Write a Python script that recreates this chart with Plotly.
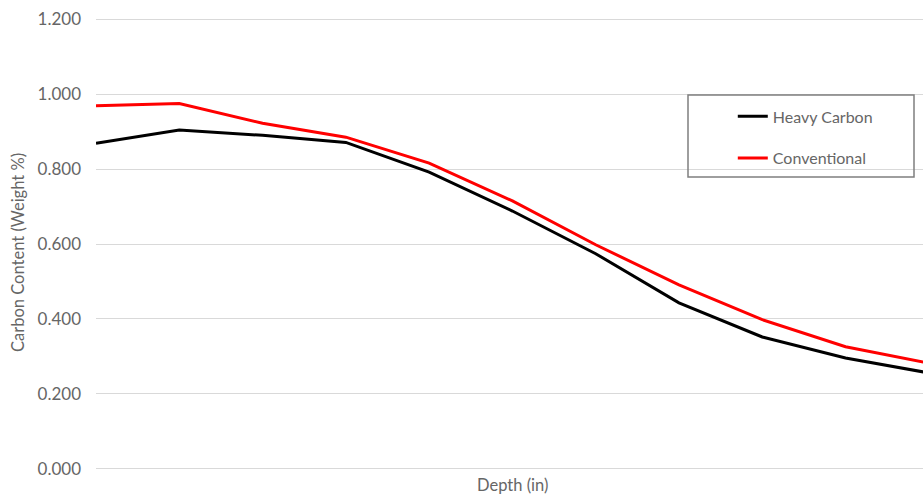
import plotly.graph_objects as go

depth_index = list(range(11))
heavy_carbon = [0.869, 0.904, 0.890, 0.871, 0.792, 0.688, 0.574, 0.443, 0.352, 0.296, 0.256]
conventional = [0.969, 0.975, 0.922, 0.885, 0.816, 0.715, 0.598, 0.491, 0.398, 0.326, 0.282]
y_ticks = [0.0, 0.2, 0.4, 0.6, 0.8, 1.0, 1.2]

FONT = "Lato"
GREY = "#666666"

fig = go.Figure()
fig.add_trace(go.Scatter(x=depth_index, y=heavy_carbon, mode="lines", name="Heavy Carbon",
                         line=dict(color="#000000", width=3), legendgroup="a"))
fig.add_trace(go.Scatter(x=depth_index, y=conventional, mode="lines", name="Conventional",
                         line=dict(color="#ff0000", width=3), legendgroup="b"))

fig.update_layout(
    width=923, height=495,
    margin=dict(l=96, r=0, t=18, b=25),
    plot_bgcolor="white", paper_bgcolor="white",
    font=dict(family=FONT, color=GREY, size=16),
    showlegend=True,
    legend=dict(x=0.77, y=0.82, xanchor="left", yanchor="top",
                bgcolor="rgba(0,0,0,0)", borderwidth=0,
                tracegroupgap=18, font=dict(size=16, color=GREY, family=FONT)),
)
fig.update_xaxes(range=[0, 9.93], showticklabels=False, showgrid=False, zeroline=False,
                 showline=False, ticks="")
fig.update_yaxes(range=[-0.003, 1.203], tickvals=y_ticks, tickformat=".3f", showgrid=True,
                 gridcolor="#d9d9d9", gridwidth=1, zeroline=False, showline=False,
                 ticks="", ticklabelstandoff=14, tickfont=dict(size=17, color=GREY))

# legend frame
fig.add_shape(type="rect", xref="paper", yref="paper",
              x0=(688 - 96) / 827, x1=(914 - 96) / 827,
              y0=(470 - 177) / 452, y1=(470 - 95) / 452,
              line=dict(color="#7f7f7f", width=1.5), fillcolor="rgba(0,0,0,0)")

fig.add_annotation(text="Depth (in)", xref="paper", yref="paper", x=0.504, y=-15 / 452,
                   showarrow=False, xanchor="center", yanchor="middle",
                   font=dict(size=16.5, color=GREY, family=FONT))
fig.add_annotation(text="Carbon Content (Weight %)", xref="paper", yref="paper",
                   x=-78 / 827, y=(470 - 253) / 452, textangle=-90, showarrow=False,
                   xanchor="center", yanchor="middle",
                   font=dict(size=16.5, color=GREY, family=FONT))

fig.write_html("out.html", config={"displayModeBar": False},
               post_script="document.body.style.margin='0';document.body.style.overflow='hidden';")
